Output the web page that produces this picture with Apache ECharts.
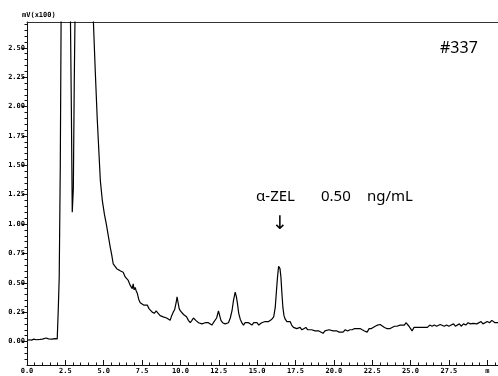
<!DOCTYPE html>
<html><head><meta charset="utf-8">
<script src="https://cdn.jsdelivr.net/npm/echarts@6/dist/echarts.min.js"></script>
<style>html,body{margin:0;padding:0;background:#fff}#c{width:498px;height:376px}</style>
</head><body><div id="c"></div>
<script>
// retention time (min)
const times = [
0.00,0.15,0.30,0.45,0.60,0.70,0.85,1.00,1.10,1.25,1.40,1.50,1.65,1.80,1.90,1.97,
2.04,2.10,2.17,2.23,2.35,2.60,2.75,2.82,2.89,2.95,3.02,3.08,3.15,3.30,3.70,4.10,
4.32,4.45,4.58,4.78,4.91,5.05,5.17,5.30,5.43,5.52,5.62,5.75,5.85,5.95,6.10,6.27,
6.40,6.50,6.60,6.72,6.86,6.92,6.98,7.05,7.12,7.19,7.28,7.38,7.50,7.60,7.72,7.84,
7.95,8.05,8.16,8.30,8.42,8.55,8.68,8.80,8.88,9.00,9.10,9.20,9.33,9.43,9.53,9.62,
9.72,9.78,9.85,9.92,10.00,10.08,10.20,10.30,10.40,10.52,10.64,10.75,10.85,10.92,
11.00,11.10,11.18,11.30,11.40,11.50,11.62,11.72,11.82,11.94,12.05,12.15,12.27,
12.36,12.48,12.56,12.64,12.75,12.84,12.92,13.02,13.13,13.25,13.36,13.46,13.57,
13.65,13.72,13.80,13.90,14.00,14.11,14.22,14.32,14.44,14.55,14.66,14.78,14.90,
15.00,15.10,15.20,15.30,15.40,15.52,15.62,15.75,15.86,15.96,16.08,16.18,16.27,
16.33,16.40,16.44,16.49,16.55,16.62,16.68,16.75,16.83,16.94,17.04,17.15,17.25,
17.37,17.48,17.58,17.69,17.80,17.92,18.05,18.18,18.30,18.42,18.55,18.65,18.78,
18.90,19.02,19.15,19.30,19.42,19.55,19.68,19.80,19.95,20.08,20.20,20.35,20.48,
20.60,20.75,20.90,21.05,21.20,21.35,21.52,21.65,21.71,21.85,22.00,22.10,22.17,
22.30,22.45,22.56,22.70,22.85,23.02,23.15,23.30,23.45,23.55,23.67,23.80,23.95,
24.10,24.20,24.32,24.45,24.60,24.70,24.78,24.90,25.00,25.10,25.22,25.35,25.50,
25.62,25.82,25.95,26.10,26.25,26.40,26.55,26.70,26.93,27.05,27.20,27.35,27.50,
27.65,27.80,27.92,28.04,28.18,28.30,28.45,28.60,28.75,28.90,29.08,29.20,29.32,
29.45,29.60,29.72,29.85,30.00,30.15,30.30,30.38,30.50,30.70
];
// detector signal (mV x100)
const signal = [
0.010,0.015,0.012,0.020,0.015,0.025,0.018,0.020,0.015,0.030,0.022,0.028,0.020,0.025,0.018,0.022,
0.28,0.55,1.50,2.90,3.60,4.00,3.40,2.90,2.00,1.10,1.30,2.20,3.00,4.20,5.00,3.80,
2.75,2.30,1.89,1.37,1.20,1.08,1.00,0.90,0.80,0.74,0.66,0.65,0.62,0.63,0.60,0.59,
0.55,0.56,0.52,0.48,0.45,0.49,0.44,0.46,0.43,0.41,0.36,0.33,0.34,0.31,0.32,0.31,
0.28,0.29,0.25,0.24,0.26,0.24,0.22,0.23,0.21,0.22,0.20,0.21,0.18,0.22,0.25,0.27,
0.33,0.38,0.33,0.28,0.26,0.25,0.23,0.22,0.21,0.18,0.16,0.18,0.20,0.21,
0.18,0.17,0.16,0.17,0.15,0.16,0.16,0.15,0.16,0.155,0.14,0.16,0.16,
0.20,0.26,0.22,0.18,0.16,0.15,0.15,0.16,0.16,0.20,0.26,0.35,0.42,
0.38,0.32,0.24,0.19,0.16,0.14,0.16,0.15,0.16,0.15,0.14,0.16,0.15,
0.16,0.14,0.15,0.16,0.15,0.17,0.16,0.17,0.18,0.19,0.21,0.29,0.45,
0.55,0.64,0.655,0.62,0.55,0.40,0.29,0.22,0.19,0.17,0.16,0.17,0.14,
0.12,0.13,0.11,0.11,0.12,0.10,0.11,0.12,0.10,0.11,0.10,0.11,0.09,
0.10,0.09,0.08,0.07,0.09,0.08,0.10,0.09,0.09,0.08,0.09,0.08,0.09,
0.08,0.10,0.09,0.10,0.10,0.11,0.11,0.10,0.11,0.10,0.09,0.09,0.08,
0.11,0.11,0.12,0.13,0.14,0.145,0.14,0.12,0.11,0.12,0.11,0.12,0.13,
0.13,0.14,0.14,0.15,0.14,0.16,0.155,0.13,0.11,0.09,0.12,0.11,0.12,
0.11,0.12,0.13,0.12,0.14,0.13,0.14,0.13,0.145,0.15,0.13,0.14,0.13,
0.14,0.15,0.13,0.14,0.15,0.13,0.15,0.14,0.16,0.15,0.155,0.17,0.15,
0.16,0.17,0.15,0.16,0.17,0.16,0.18,0.17,0.16,0.16
];
const yMajorTicks = [0,0.25,0.5,0.75,1.0,1.25,1.5,1.75,2.0,2.25,2.5];
const yMinorTicks = [];
for (let k = -3; k <= 54; k++) { if (k % 5 !== 0) yMinorTicks.push(+(k * 0.05).toFixed(2)); }
const xLastLabel = 'm';
const yUnitLabel = 'mV(x100)';
const sampleLabel = '#337';
const annoName = 'α-ZEL', annoConc = '0.50', annoUnit = 'ng/mL';

const chart = echarts.init(document.getElementById('c'), null, {renderer:'canvas'});
const tickFont = {fontSize:7, fontFamily:'DejaVu Sans Mono', fontWeight:'bold', color:'#000'};
chart.setOption({
  animation:false,
  backgroundColor:'#fff',
  grid:{left:27, right:0, top:22, bottom:11, containLabel:false},
  xAxis:[{
    type:'value', min:0, max:30.7, interval:2.5,
    axisLine:{show:true, onZero:false, lineStyle:{color:'#111', width:1}},
    axisTick:{show:true, inside:true, length:5, lineStyle:{color:'#111'}},
    minorTick:{show:true, splitNumber:5, length:2.5, lineStyle:{color:'#111'}},
    axisLabel:Object.assign({margin:3, showMaxLabel:false,
      formatter:v=> Math.abs(v-30)<1e-6 ? xLastLabel : (Math.abs(v/2.5-Math.round(v/2.5))<1e-6 ? v.toFixed(1) : '')}, tickFont),
    splitLine:{show:false}
  },{
    type:'value', position:'top', min:0, max:30.7,
    axisLine:{show:true, onZero:false, lineStyle:{color:'#333', width:1}},
    axisTick:{show:false}, axisLabel:{show:false}, splitLine:{show:false}
  }],
  yAxis:[{
    type:'value', min:-0.2, max:2.72, position:'left',
    axisLine:{show:true, onZero:false, lineStyle:{color:'#111', width:1}},
    axisTick:{show:true, customValues:yMajorTicks, length:5, lineStyle:{color:'#111'}},
    axisLabel:Object.assign({customValues:yMajorTicks, margin:2, formatter:v=>v.toFixed(2)}, tickFont),
    splitLine:{show:false},
    name:yUnitLabel, nameLocation:'end', nameGap:3,
    nameTextStyle:{fontSize:7, fontFamily:'DejaVu Sans Mono', fontWeight:'bold', color:'#000', align:'left', padding:[0,0,0,-5]}
  },{
    type:'value', min:-0.2, max:2.72, position:'left',
    axisLine:{show:false},
    axisTick:{show:true, customValues:yMinorTicks, length:2.5, lineStyle:{color:'#111'}},
    axisLabel:{show:false}, splitLine:{show:false}
  }],
  series:[{
    type:'line', xAxisIndex:0, yAxisIndex:0,
    data: times.map((t,i)=>[t, signal[i]]),
    showSymbol:false, symbol:'none', clip:true,
    lineStyle:{color:'#000', width:1.2}
  }],
  graphic:[
    {type:'text', left:440, top:40, style:{text:sampleLabel, fontSize:16, fontFamily:'Noto Sans', fill:'#000'}},
    {type:'text', left:256, top:189, style:{text:annoName, fontSize:15, fontFamily:'Noto Sans', fill:'#000'}},
    {type:'text', left:321, top:189, style:{text:annoConc, fontSize:15, fontFamily:'Noto Sans', fill:'#000'}},
    {type:'text', left:367, top:189, style:{text:annoUnit, fontSize:15, fontFamily:'Noto Sans', fill:'#000'}},
    {type:'text', left:272, top:215, style:{text:'↓', fontSize:19, fontFamily:'DejaVu Sans', fill:'#000'}}
  ]
});
</script></body></html>
